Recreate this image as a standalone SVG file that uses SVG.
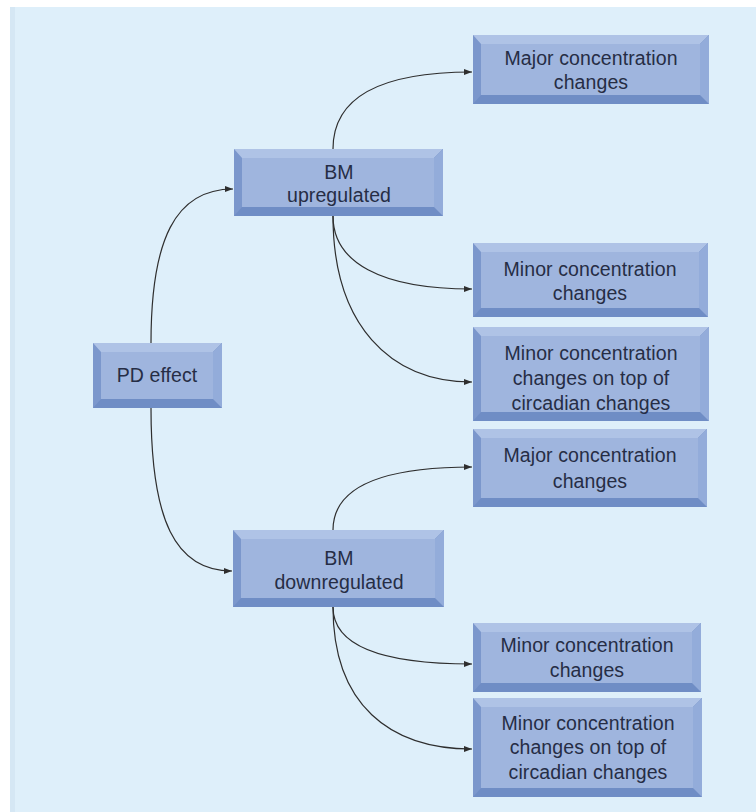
<svg xmlns="http://www.w3.org/2000/svg" width="756" height="812" viewBox="0 0 756 812">
  <defs>
    <marker id="arrow" markerUnits="userSpaceOnUse" markerWidth="9" markerHeight="7" refX="8" refY="3" orient="auto">
      <path d="M0,0 L8,3 L0,6 z" fill="#2e2e2e"/>
    </marker>
    <style>
      .base { fill: #6f8dc5; }
      .lft { fill: #7b97cc; }
      .top { fill: #afc3e6; }
      .rgt { fill: #93acda; }
      .face { fill: #9fb5de; }
      .lbl { font-family: "Liberation Sans", Arial, sans-serif; font-size: 19.5px; letter-spacing: 0.1px; fill: #262d45; text-anchor: middle; }
      .edge { fill: none; stroke: #2e2e2e; stroke-width: 1.2; marker-end: url(#arrow); }
    </style>
  </defs>

  <!-- backdrop panel -->
  <rect x="0" y="0" width="756" height="812" fill="#ffffff"/>
  <rect x="10" y="7" width="746" height="805" fill="#deeffa"/>
  <rect x="10" y="7" width="5" height="805" fill="#d5e7f4"/>

  <!-- connectors -->
  <g id="connectors">
    <path class="edge" d="M151,343 C151,240 175,189 233,189"/>
    <path class="edge" d="M151,408 C151,520 175,571 232,571"/>
    <path class="edge" d="M333,149 C333,95 385,72 472,72"/>
    <path class="edge" d="M333,216 C333,262 380,289 472,289"/>
    <path class="edge" d="M333,216 C333,325 390,382 472,382"/>
    <path class="edge" d="M333,530 C333,485 385,467 472,467"/>
    <path class="edge" d="M333,607 C333,645 380,664 472,664"/>
    <path class="edge" d="M333,607 C333,705 390,749 472,749"/>
  </g>

  <!-- PD effect -->
  <g id="pd-effect">
    <rect class="base" x="93" y="343" width="129" height="65"/>
    <polygon class="lft" points="93,343 101,352 101,399 93,408"/>
    <polygon class="top" points="93,343 222,343 213,352 101,352"/>
    <polygon class="rgt" points="222,343 222,408 213,399 213,352"/>
    <rect class="face" x="101" y="352" width="112" height="47"/>
    <text class="lbl" x="157" y="382">PD effect</text>
  </g>

  <!-- BM upregulated -->
  <g id="bm-up">
    <rect class="base" x="234" y="149" width="209" height="67"/>
    <polygon class="lft" points="234,149 242,158 242,207 234,216"/>
    <polygon class="top" points="234,149 443,149 434,158 242,158"/>
    <polygon class="rgt" points="443,149 443,216 434,207 434,158"/>
    <rect class="face" x="242" y="158" width="192" height="49"/>
    <text class="lbl" x="339" y="179">BM</text>
    <text class="lbl" x="339" y="202">upregulated</text>
  </g>

  <!-- BM downregulated -->
  <g id="bm-down">
    <rect class="base" x="233" y="530" width="211" height="77"/>
    <polygon class="lft" points="233,530 241,539 241,598 233,607"/>
    <polygon class="top" points="233,530 444,530 435,539 241,539"/>
    <polygon class="rgt" points="444,530 444,607 435,598 435,539"/>
    <rect class="face" x="241" y="539" width="194" height="59"/>
    <text class="lbl" x="339" y="565">BM</text>
    <text class="lbl" x="339" y="589">downregulated</text>
  </g>

  <!-- Major concentration changes (up) -->
  <g id="major-up">
    <rect class="base" x="473" y="35" width="236" height="69"/>
    <polygon class="lft" points="473,35 481,44 481,95 473,104"/>
    <polygon class="top" points="473,35 709,35 700,44 481,44"/>
    <polygon class="rgt" points="709,35 709,104 700,95 700,44"/>
    <rect class="face" x="481" y="44" width="219" height="51"/>
    <text class="lbl" x="591" y="65">Major concentration</text>
    <text class="lbl" x="591" y="89">changes</text>
  </g>

  <!-- Minor concentration changes (up) -->
  <g id="minor-up">
    <rect class="base" x="473" y="243" width="235" height="74"/>
    <polygon class="lft" points="473,243 481,252 481,308 473,317"/>
    <polygon class="top" points="473,243 708,243 699,252 481,252"/>
    <polygon class="rgt" points="708,243 708,317 699,308 699,252"/>
    <rect class="face" x="481" y="252" width="218" height="56"/>
    <text class="lbl" x="590" y="276">Minor concentration</text>
    <text class="lbl" x="590" y="300">changes</text>
  </g>

  <!-- Minor changes on top of circadian (up) -->
  <g id="minor-circadian-up">
    <rect class="base" x="473" y="327" width="236" height="94"/>
    <polygon class="lft" points="473,327 481,336 481,412 473,421"/>
    <polygon class="top" points="473,327 709,327 700,336 481,336"/>
    <polygon class="rgt" points="709,327 709,421 700,412 700,336"/>
    <rect class="face" x="481" y="336" width="219" height="76"/>
    <text class="lbl" x="591" y="360">Minor concentration</text>
    <text class="lbl" x="591" y="385">changes on top of</text>
    <text class="lbl" x="591" y="410">circadian changes</text>
  </g>

  <!-- Major concentration changes (down) -->
  <g id="major-down">
    <rect class="base" x="473" y="429" width="234" height="78"/>
    <polygon class="lft" points="473,429 481,438 481,498 473,507"/>
    <polygon class="top" points="473,429 707,429 698,438 481,438"/>
    <polygon class="rgt" points="707,429 707,507 698,498 698,438"/>
    <rect class="face" x="481" y="438" width="217" height="60"/>
    <text class="lbl" x="590" y="462">Major concentration</text>
    <text class="lbl" x="590" y="488">changes</text>
  </g>

  <!-- Minor concentration changes (down) -->
  <g id="minor-down">
    <rect class="base" x="473" y="623" width="228" height="69"/>
    <polygon class="lft" points="473,623 481,632 481,683 473,692"/>
    <polygon class="top" points="473,623 701,623 692,632 481,632"/>
    <polygon class="rgt" points="701,623 701,692 692,683 692,632"/>
    <rect class="face" x="481" y="632" width="211" height="51"/>
    <text class="lbl" x="587" y="652">Minor concentration</text>
    <text class="lbl" x="587" y="677">changes</text>
  </g>

  <!-- Minor changes on top of circadian (down) -->
  <g id="minor-circadian-down">
    <rect class="base" x="473" y="698" width="229" height="99"/>
    <polygon class="lft" points="473,698 481,707 481,788 473,797"/>
    <polygon class="top" points="473,698 702,698 693,707 481,707"/>
    <polygon class="rgt" points="702,698 702,797 693,788 693,707"/>
    <rect class="face" x="481" y="707" width="212" height="81"/>
    <text class="lbl" x="588" y="730">Minor concentration</text>
    <text class="lbl" x="588" y="754">changes on top of</text>
    <text class="lbl" x="588" y="779">circadian changes</text>
  </g>
</svg>
